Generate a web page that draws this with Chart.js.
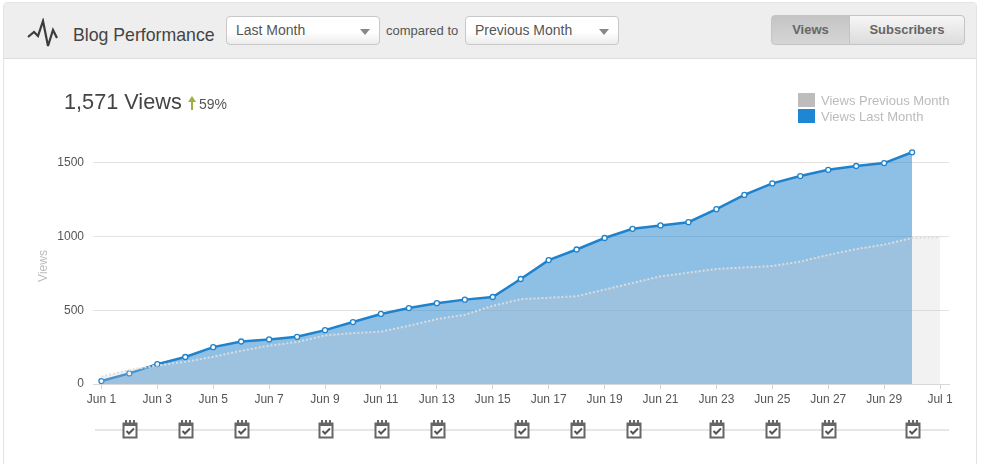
<!DOCTYPE html>
<html>
<head>
<meta charset="utf-8">
<title>Blog Performance</title>
<script src="https://cdn.jsdelivr.net/npm/chart.js@4/dist/chart.umd.js"></script>
<style>
  html, body { margin: 0; padding: 0; background: #fff; overflow: hidden; }
  body { width: 981px; height: 464px; position: relative; font-family: "Liberation Sans", Arial, sans-serif; color: #555; }
  #panel { position: absolute; left: 3px; top: 2px; width: 972px; height: 470px; border: 1px solid #e4e4e4; border-radius: 4px; box-sizing: content-box; }
  #header { position: absolute; left: 4px; top: 3px; width: 972px; height: 55px; background: #eee; border-bottom: 1px solid #ddd; border-radius: 3px 3px 0 0; }
  #chart { position: absolute; left: 0; top: 0; }
  .abs { position: absolute; white-space: nowrap; }
  .select { position: absolute; top: 16px; width: 154px; height: 29px; box-sizing: border-box; border: 1px solid #c8c8c8; border-radius: 4px; background: linear-gradient(#fff 55%, #ececec); font-size: 14px; line-height: 27px; padding-left: 9px; color: #555; }
  .select::after { content: ""; position: absolute; right: 9px; top: 12px; border-left: 5px solid transparent; border-right: 5px solid transparent; border-top: 6px solid #888; }
  .btn { position: absolute; top: 15px; height: 30px; box-sizing: border-box; border: 1px solid #c4c4c4; font-size: 13px; font-weight: bold; line-height: 28px; text-align: center; color: #666; }
  .swatch { position: absolute; left: 798px; width: 17px; height: 14px; }
  .legend { position: absolute; left: 821px; font-size: 13px; color: #bbb; white-space: nowrap; line-height: 16px; }
</style>
</head>
<body>
<div id="panel"></div>
<div id="header"></div>
<svg class="abs" style="left:26px;top:18px" width="33" height="32" viewBox="0 0 33 32">
  <polyline points="2,19 8,14 12,18 17,3 22,28 27,12 31,20" fill="none" stroke="#3c3c3c" stroke-width="2.2"/>
</svg>
<div class="abs" style="left:73px;top:25px;font-size:17.7px;color:#444">Blog Performance</div>
<div class="select" style="left:226px">Last Month</div>
<div class="abs" style="left:386px;top:23px;font-size:13px;color:#555">compared to</div>
<div class="select" style="left:465px">Previous Month</div>
<div class="btn" style="left:771px;width:79px;border-radius:4px 0 0 4px;background:linear-gradient(#c4c4c4,#d6d6d6)">Views</div>
<div class="btn" style="left:849px;width:116px;border-radius:0 4px 4px 0;background:linear-gradient(#f6f6f6,#dcdcdc)">Subscribers</div>
<canvas id="chart" width="981" height="464"></canvas>
<div class="abs" style="left:64px;top:89px;font-size:21.7px;color:#444" id="total">1,571 Views</div>
<svg class="abs" style="left:186px;top:95px" width="12" height="16" viewBox="0 0 12 16">
  <path d="M6 1 L10 7 H7 V15 H5 V7 H2 Z" fill="#9db13c"/>
</svg>
<div class="abs" style="left:199px;top:96px;font-size:14px;color:#555">59%</div>
<div class="swatch" style="top:93px;background:#bdbdbd"></div>
<div class="legend" style="top:93px" id="legendPrev"></div>
<div class="swatch" style="top:109px;background:#1e86d2"></div>
<div class="legend" style="top:109px" id="legendLast"></div>

<script>
const seriesLastName = "Views Last Month";
const seriesPrevName = "Views Previous Month";

// day number 0 = Jun 1, 30 = Jul 1
const dayLabels = ["Jun 1", "Jun 3", "Jun 5", "Jun 7", "Jun 9", "Jun 11", "Jun 13", "Jun 15",
  "Jun 17", "Jun 19", "Jun 21", "Jun 23", "Jun 25", "Jun 27", "Jun 29", "Jul 1"];
const yTicks = [0, 500, 1000, 1500];

const lastMonth = [20, 72, 135, 183, 250, 288, 302, 320, 365, 420, 475, 515, 548, 572, 590,
  712, 840, 912, 990, 1052, 1075, 1097, 1185, 1282, 1360, 1410, 1452, 1478, 1498, 1571];
const prevMonth = [50, 95, 125, 150, 185, 225, 260, 285, 330, 345, 355, 395, 440, 470, 530,
  575, 585, 595, 640, 685, 730, 755, 780, 790, 800, 830, 875, 915, 945, 990, 995];

// days with a post, same numbering
const noteDays = [1, 3, 5, 8, 10, 12, 15, 17, 19, 22, 24, 26, 29];

document.getElementById("legendPrev").textContent = seriesPrevName;
document.getElementById("legendLast").textContent = seriesLastName;

function toPoints(values) {
  return values.map((v, i) => ({ x: i, y: v }));
}

function drawNote(ctx, x, y) {
  ctx.save();
  ctx.translate(Math.round(x), y);
  ctx.fillStyle = "#fff";
  ctx.fillRect(-7, -7, 14, 15);
  ctx.strokeStyle = "#666";
  ctx.lineWidth = 2;
  ctx.strokeRect(-6.5, -5.5, 13, 14);
  ctx.fillStyle = "#666";
  ctx.fillRect(-7, -6, 14, 3);
  for (const dx of [-5, -1, 3]) ctx.fillRect(dx, -9, 2, 3);
  ctx.strokeStyle = "#555";
  ctx.beginPath();
  ctx.moveTo(-3.5, 2);
  ctx.lineTo(-1, 4.5);
  ctx.lineTo(4, -0.5);
  ctx.stroke();
  ctx.restore();
}

const notesPlugin = {
  id: "notes",
  afterDraw(chart) {
    const ctx = chart.ctx;
    const xs = chart.scales.x;
    ctx.save();
    ctx.strokeStyle = "#e6e6e6";
    ctx.lineWidth = 2;
    ctx.beginPath();
    ctx.moveTo(xs.left + 2, 430);
    ctx.lineTo(xs.right, 430);
    ctx.stroke();
    ctx.restore();
    for (const d of noteDays) drawNote(ctx, xs.getPixelForValue(d) + 1, 429);
  }
};

new Chart(document.getElementById("chart").getContext("2d"), {
  type: "line",
  data: {
    datasets: [
      {
        label: seriesPrevName,
        data: toPoints(prevMonth),
        borderColor: "#dcdcdc",
        borderWidth: 2,
        borderDash: [2, 2],
        backgroundColor: "rgba(205,205,205,0.25)",
        fill: "origin",
        pointRadius: 0,
        tension: 0
      },
      {
        label: seriesLastName,
        data: toPoints(lastMonth),
        borderColor: "#1e82cc",
        borderWidth: 2.5,
        backgroundColor: "rgba(30,130,205,0.5)",
        fill: "origin",
        pointRadius: 2.5,
        pointBorderWidth: 1.3,
        pointBackgroundColor: "#fff",
        pointBorderColor: "#1e82cc",
        tension: 0
      }
    ]
  },
  options: {
    responsive: false,
    animation: false,
    devicePixelRatio: 1,
    layout: { padding: { left: 32, right: 32, top: 148, bottom: 0 } },
    plugins: { legend: { display: false }, tooltip: { enabled: false } },
    scales: {
      x: {
        type: "linear",
        min: -0.3,
        max: 30.32,
        afterBuildTicks(scale) {
          scale.ticks = dayLabels.map((_, i) => ({ value: i * 2 }));
        },
        afterFit(scale) { scale.height = 80; },
        grid: { drawOnChartArea: false, color: "#ccd3da", tickLength: 5 },
        border: { color: "#d8d8d8" },
        ticks: {
          autoSkip: false,
          maxRotation: 0,
          padding: 3,
          color: "#555",
          font: { family: "Liberation Sans", size: 12 },
          callback: (v) => dayLabels[v / 2]
        }
      },
      y: {
        min: 0,
        max: 1600,
        afterBuildTicks(scale) {
          scale.ticks = yTicks.map((v) => ({ value: v }));
        },
        afterFit(scale) { scale.width = 61; },
        grid: { color: "#e2e2e2", tickLength: 0 },
        border: { display: false },
        ticks: {
          padding: 9,
          color: "#555",
          font: { family: "Liberation Sans", size: 12 },
          callback: (v) => String(v)
        },
        title: {
          display: true,
          text: "Views",
          color: "#bbb",
          padding: { top: 4, bottom: 0 },
          font: { family: "Liberation Sans", size: 12 }
        }
      }
    }
  },
  plugins: [notesPlugin]
});
</script>
</body>
</html>
